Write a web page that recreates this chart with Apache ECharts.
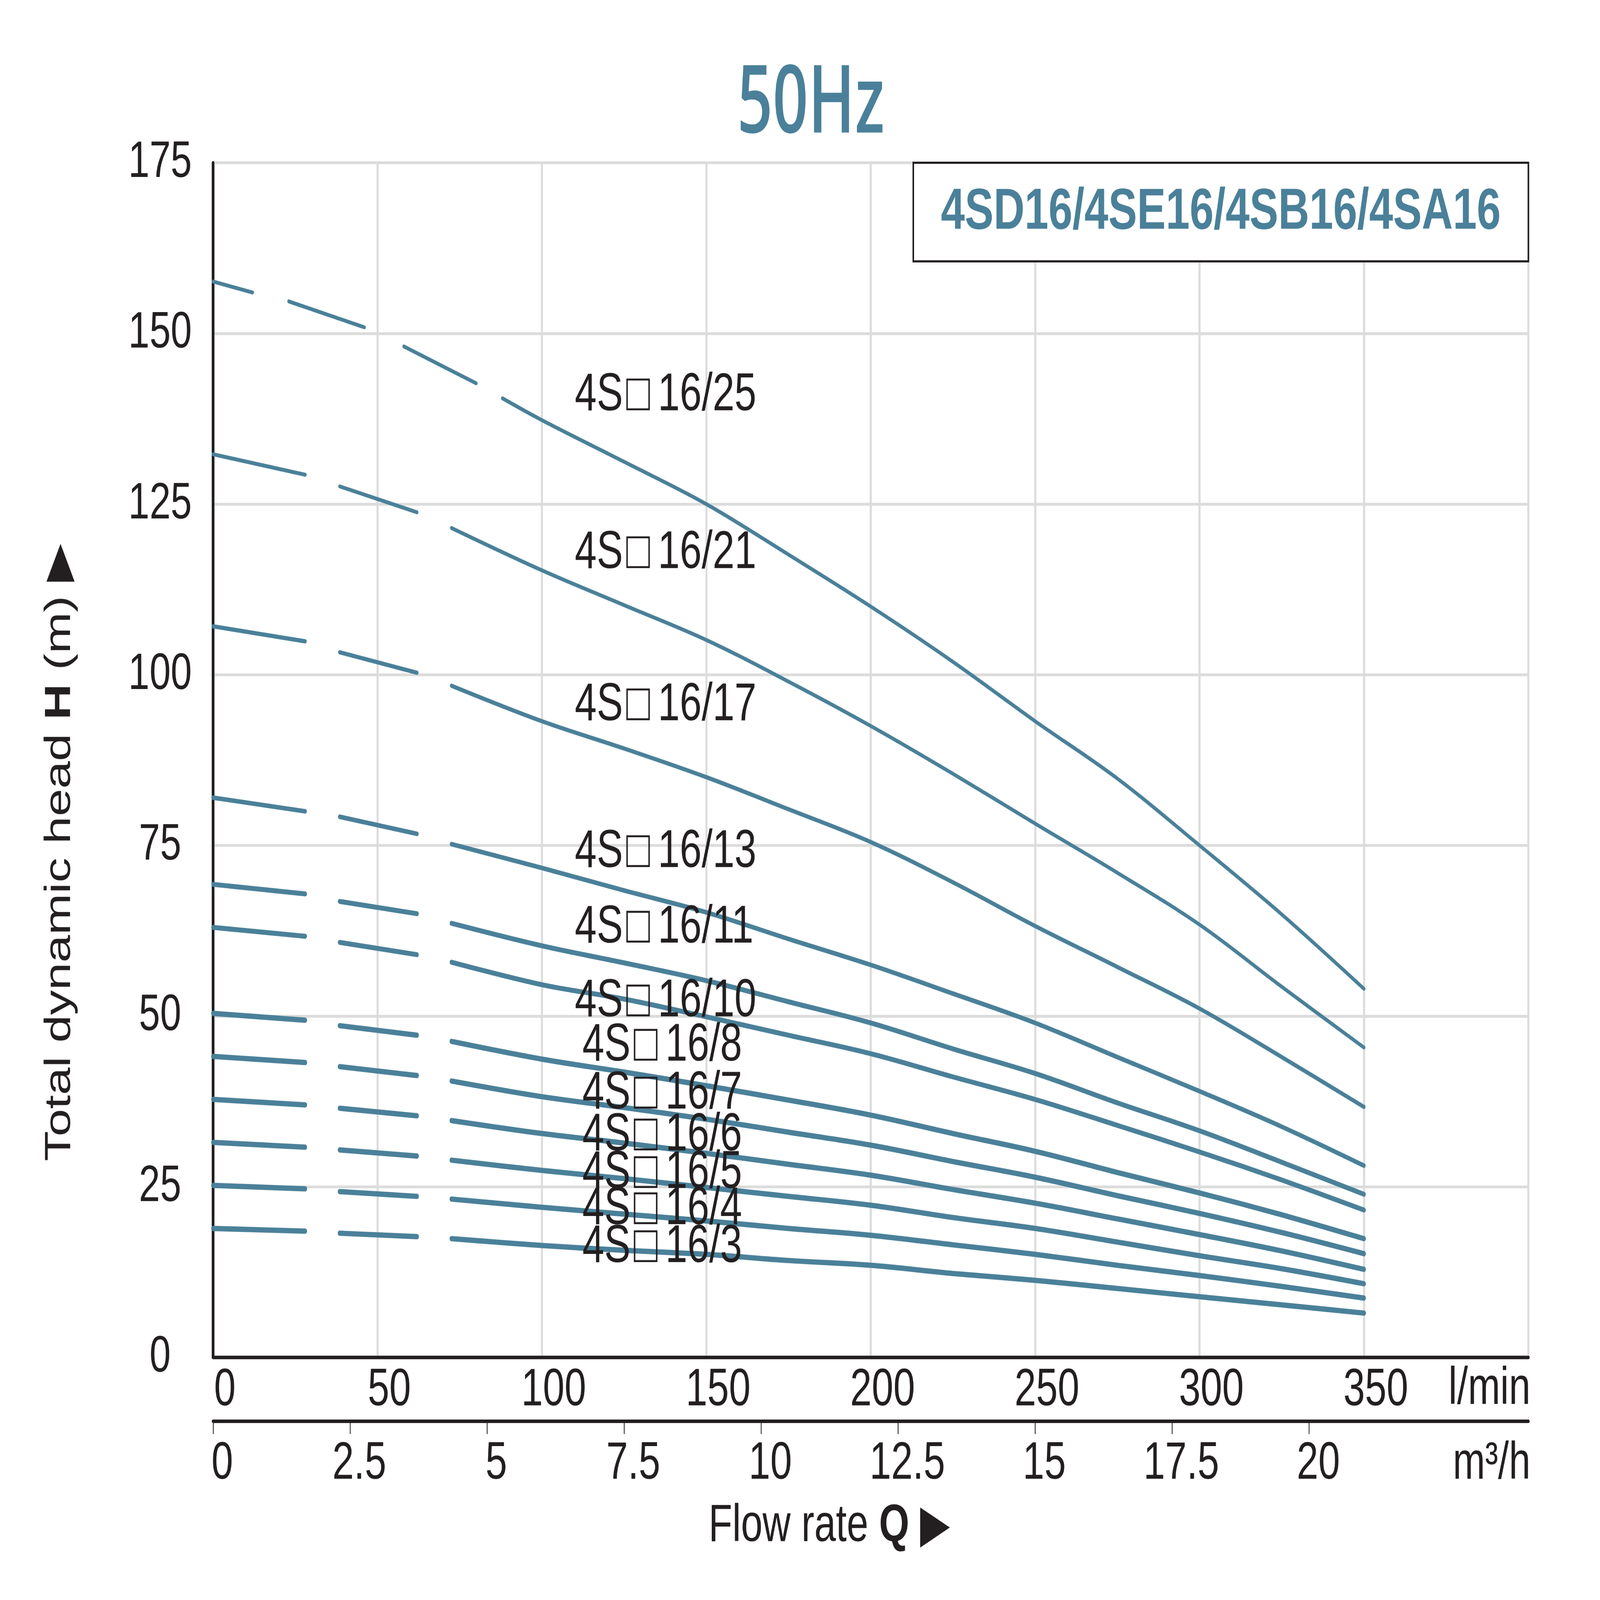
<!DOCTYPE html>
<html lang="en">
  <head>
    <meta charset="UTF-8" />
    <title>50Hz pump curves 4S16</title>
    <script src="https://cdn.jsdelivr.net/npm/echarts@6/dist/echarts.min.js"></script>
    <style>
      html, body { margin: 0; padding: 0; background: #fff; overflow: hidden; }
      #main { width: 6097px; height: 4512px; transform-origin: 0 0; }
    </style>
  </head>
  <body>
    <div id="main"></div>
    <script type="text/javascript">
      // flow rate points (l/min) the curves were read at
      const flowCommon = [0, 28, 38.5, 62, 72.5, 100, 125, 150, 175, 200, 225, 250, 275, 300, 325, 350];
      const flow25 = [0, 12, 23, 46, 58, 80, 88, 100, 125, 150, 175, 200, 225, 250, 275, 300, 325, 350];

      // head (m)
      const head25 = [157.6, 156.0, 154.7, 150.9, 148.1, 142.7, 140.5, 137.3, 131.2, 125.0, 117.6, 110.0, 101.9, 93.2, 84.8, 75.0, 64.9, 54.0];
      const head21 = [132.3, 129.3, 127.6, 123.8, 121.5, 115.3, 110.2, 105.1, 99.0, 92.5, 85.5, 78.2, 71.0, 63.4, 54.3, 45.4];
      const head17 = [107.1, 104.9, 103.3, 100.3, 98.4, 93.2, 89.2, 85.0, 80.3, 75.5, 69.6, 63.2, 57.2, 51.1, 44.0, 36.7];
      const head13 = [82.0, 80.0, 79.2, 76.7, 75.2, 71.7, 68.4, 65.2, 61.3, 57.5, 53.3, 49.0, 44.0, 39.0, 33.8, 28.1];
      const head11 = [69.3, 67.9, 66.8, 65.0, 63.6, 60.3, 57.8, 55.2, 52.1, 49.0, 45.2, 41.6, 37.3, 33.2, 28.6, 23.9];
      const head10 = [63.0, 61.7, 60.8, 59.0, 57.9, 54.6, 52.5, 49.9, 47.2, 44.5, 41.1, 37.8, 34.0, 30.1, 26.0, 21.6];
      const head8 = [50.4, 49.4, 48.6, 47.2, 46.3, 43.7, 41.8, 39.8, 37.7, 35.5, 32.8, 30.2, 27.1, 24.1, 20.9, 17.4];
      const head7 = [44.1, 43.2, 42.6, 41.3, 40.5, 38.2, 36.6, 34.9, 33.0, 31.1, 28.7, 26.4, 23.7, 21.1, 18.3, 15.2];
      const head6 = [37.8, 37.0, 36.5, 35.4, 34.7, 32.8, 31.4, 29.9, 28.3, 26.7, 24.6, 22.6, 20.3, 18.0, 15.6, 12.9];
      const head5 = [31.5, 30.8, 30.4, 29.5, 28.9, 27.4, 26.2, 24.9, 23.6, 22.3, 20.5, 18.9, 16.9, 14.9, 13.0, 10.8];
      const head4 = [25.2, 24.7, 24.3, 23.6, 23.2, 22.0, 21.0, 20.0, 18.9, 17.9, 16.5, 15.1, 13.5, 12.0, 10.4, 8.7];
      const head3 = [18.9, 18.5, 18.2, 17.7, 17.4, 16.4, 15.7, 15.1, 14.2, 13.5, 12.3, 11.3, 10.1, 8.9, 7.7, 6.5];

      // index ranges of the drawn pieces (dashed start, solid rest)
      const piecesCommon = [[0, 1], [2, 3], [4, 15]];
      const pieces25 = [[0, 1], [2, 3], [4, 5], [6, 17]];

      // curve labels
      const labelNames = ["4S\u200A\u25A1\u200916/25", "4S\u200A\u25A1\u200916/21", "4S\u200A\u25A1\u200916/17", "4S\u200A\u25A1\u200916/13",
                          "4S\u200A\u25A1\u200916/11", "4S\u200A\u25A1\u200916/10", "4S\u200A\u25A1\u200916/8", "4S\u200A\u25A1\u200916/7",
                          "4S\u200A\u25A1\u200916/6", "4S\u200A\u25A1\u200916/5", "4S\u200A\u25A1\u200916/4", "4S\u200A\u25A1\u200916/3"];
      const labelQ = [110, 110, 110, 110, 110, 110, 112.3, 112.3, 112.3, 112.3, 112.3, 112.3];
      const labelH = [140.9, 117.8, 95.5, 74.0, 62.9, 52.1, 45.6, 38.6, 32.5, 27.0, 21.7, 16.1];

      // axis ticks
      const lminTicks = [0, 50, 100, 150, 200, 250, 300, 350];
      const m3hTicks = [0, 2.5, 5, 7.5, 10, 12.5, 15, 17.5, 20];

      const curves = [
        { flow: flow25, head: head25, pieces: pieces25, width: 11 },
        { flow: flowCommon, head: head21, pieces: piecesCommon, width: 11 },
        { flow: flowCommon, head: head17, pieces: piecesCommon, width: 12 },
        { flow: flowCommon, head: head13, pieces: piecesCommon, width: 13 },
        { flow: flowCommon, head: head11, pieces: piecesCommon, width: 14 },
        { flow: flowCommon, head: head10, pieces: piecesCommon, width: 14 },
        { flow: flowCommon, head: head8, pieces: piecesCommon, width: 15 },
        { flow: flowCommon, head: head7, pieces: piecesCommon, width: 15 },
        { flow: flowCommon, head: head6, pieces: piecesCommon, width: 15 },
        { flow: flowCommon, head: head5, pieces: piecesCommon, width: 15 },
        { flow: flowCommon, head: head4, pieces: piecesCommon, width: 15 },
        { flow: flowCommon, head: head3, pieces: piecesCommon, width: 15 }
      ];

      const blue = "#4a8099";
      const ink = "#231f20";
      const font = "'Liberation Sans', Arial, 'DejaVu Sans', sans-serif";

      // the chart is laid out at 6097 x 4512, then stretched to fit the window
      const el = document.getElementById("main");
      el.style.transform = "scale(" + window.innerWidth / 6097 + "," + window.innerHeight / 4512 + ")";

      const series = [];
      curves.forEach((c) => {
        c.pieces.forEach((p) => {
          const data = [];
          for (let i = p[0]; i <= p[1]; i++) data.push([c.flow[i], c.head[i]]);
          series.push({
            type: "line",
            data: data,
            showSymbol: false,
            smooth: 0.35,
            silent: true,
            z: 3,
            lineStyle: { color: blue, width: c.width, cap: "round", join: "round" }
          });
        });
      });

      series.push({
        type: "scatter",
        symbolSize: 0,
        z: 5,
        silent: true,
        itemStyle: { opacity: 1 },
        data: labelNames.map((n, i) => [labelQ[i], labelH[i], n]),
        label: {
          show: true,
          position: "right",
          distance: 0,
          formatter: (p) => p.data[2],
          color: ink,
          opacity: 1,
          fontFamily: font,
          fontSize: 150
        }
      });

      var myChart = echarts.init(el);

      var option = {
        animation: false,
        backgroundColor: "#ffffff",
        grid: {
          left: 812,
          right: 273,
          top: 459,
          bottom: 684,
          show: true,
          borderColor: ink,
          borderWidth: 6
        },
        xAxis: [
          {
            type: "value",
            min: 0,
            max: 400,
            interval: 50,
            axisLine: { show: true, onZero: false, lineStyle: { color: ink, width: 10 } },
            axisTick: { show: false },
            splitLine: { show: true, lineStyle: { color: "#dcdcdc", width: 8 } },
            axisLabel: {
              customValues: lminTicks,
              margin: 20,
              padding: [0, 0, 0, 90],
              color: ink,
              fontFamily: font,
              fontSize: 148
            }
          },
          {
            type: "value",
            position: "bottom",
            offset: 180,
            min: 0,
            max: 24,
            axisLine: { show: true, onZero: false, lineStyle: { color: ink, width: 10 } },
            axisTick: {
              show: true,
              customValues: m3hTicks,
              length: 36,
              lineStyle: { color: ink, width: 3 }
            },
            splitLine: { show: false },
            axisLabel: {
              customValues: m3hTicks,
              margin: 47,
              padding: [0, 0, 0, 70],
              color: ink,
              fontFamily: font,
              fontSize: 148
            }
          }
        ],
        yAxis: {
          type: "value",
          min: 0,
          max: 175,
          interval: 25,
          axisLine: { show: true, lineStyle: { color: ink, width: 10 } },
          axisTick: { show: false },
          splitLine: { show: true, lineStyle: { color: "#dcdcdc", width: 8 } },
          axisLabel: {
            margin: 202,
            align: "center",
            color: ink,
            fontFamily: font,
            fontSize: 145
          }
        },
        graphic: [
          {
            type: "text",
            x: 3090,
            y: 298,
            scaleX: 0.89,
            style: {
              text: "50Hz",
              fill: blue,
              font: "600 266px 'Open Sans', 'Noto Sans', sans-serif",
              align: "center",
              verticalAlign: "middle"
            }
          },
          {
            type: "rect",
            z: 10,
            shape: { x: 3480, y: 459, width: 2344, height: 278 },
            style: { fill: "#ffffff", stroke: ink, lineWidth: 6 }
          },
          {
            type: "text",
            z: 11,
            x: 4652,
            y: 600,
            style: {
              text: "4SD16/4SE16/4SB16/4SA16",
              fill: blue,
              font: "bold 164px " + font,
              align: "center",
              verticalAlign: "middle"
            }
          },
          {
            type: "text",
            x: 228,
            y: 2404,
            rotation: Math.PI / 2,
            style: {
              text: "{a|Total dynamic head }{b|H}{a| (m) \u25B6}",
              align: "center",
              verticalAlign: "middle",
              rich: {
                a: { fill: ink, fontSize: 140, fontFamily: font },
                b: { fill: ink, fontSize: 140, fontFamily: font, fontWeight: "bold" }
              }
            }
          },
          {
            type: "text",
            x: 3160,
            y: 4305,
            style: {
              text: "{a|Flow rate }{b|Q}{a| \u25B6}",
              align: "center",
              verticalAlign: "middle",
              rich: {
                a: { fill: ink, fontSize: 148, fontFamily: font },
                b: { fill: ink, fontSize: 148, fontFamily: font, fontWeight: "bold" }
              }
            }
          },
          {
            type: "text",
            x: 5832,
            y: 3918,
            style: {
              text: "l/min",
              fill: ink,
              font: "148px " + font,
              align: "right",
              verticalAlign: "middle"
            }
          },
          {
            type: "text",
            x: 5832,
            y: 4129,
            style: {
              text: "m\u00B3/h",
              fill: ink,
              font: "148px " + font,
              align: "right",
              verticalAlign: "middle"
            }
          }
        ],
        series: series
      };

      myChart.setOption(option);
    </script>
  </body>
</html>
